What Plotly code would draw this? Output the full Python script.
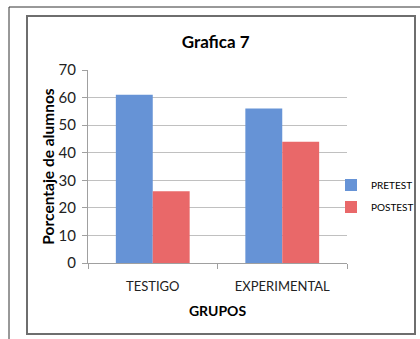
import plotly.graph_objects as go

categories = ["TESTIGO", "EXPERIMENTAL"]
pretest = [61, 56]
postest = [26, 44]
series_names = ["PRETEST", "POSTEST"]

W, H = 420, 339
L, R, T, B = 88, 73, 70, 76
pw, ph = W - L - R, H - T - B

def px(x):
    return (x - L) / pw

def py(y):
    return (H - B - y) / ph

fig = go.Figure()
fig.add_trace(go.Bar(x=categories, y=pretest, name=series_names[0], legendgroup="a",
                     marker=dict(color="#6693D6", line=dict(width=0))))
fig.add_trace(go.Bar(x=categories, y=postest, name=series_names[1], legendgroup="b",
                     marker=dict(color="#E96869", line=dict(width=0))))

font = "Lato, Open Sans, sans-serif"
fig.update_layout(
    width=W, height=H,
    margin=dict(l=L, r=R, t=T, b=B, autoexpand=False),
    paper_bgcolor="white", plot_bgcolor="white",
    barmode="group", bargap=0.43, bargroupgap=0,
    font=dict(family=font, color="#000000", size=14),
    title=dict(text="<b>Grafica 7</b>", x=px(221), xanchor="center",
               y=1 - 42 / H, yanchor="middle", font=dict(size=17)),
    showlegend=True,
    legend=dict(x=px(331), y=py(196), xanchor="left", yanchor="middle",
                font=dict(size=10), itemwidth=30, tracegroupgap=3,
                bgcolor="rgba(0,0,0,0)"),
    xaxis=dict(title=dict(text="<b>GRUPOS</b>", font=dict(size=14), standoff=13),
               automargin=False, tickangle=0, ticklabelstandoff=11,
               showline=True, linecolor="#A0A0A0", linewidth=1,
               ticks="outside", tickson="boundaries", ticklen=5, tickcolor="#A0A0A0",
               tickfont=dict(size=13, color="#222222"), showgrid=False),
    yaxis=dict(title=dict(text="<b>Porcentaje de alumnos</b>", font=dict(size=15.5), standoff=0),
               automargin=False, ticklabelstandoff=3,
               range=[0, 70], dtick=10, showline=True, linecolor="#A0A0A0", linewidth=1,
               ticks="outside", ticklen=5, tickcolor="#A0A0A0",
               gridcolor="#C0C0C0", gridwidth=1, tickfont=dict(size=15, color="#222222")),
    shapes=[
        dict(type="line", xref="paper", yref="paper", x0=px(9), x1=px(420), y0=py(7), y1=py(7),
             line=dict(color="#333333", width=1)),
        dict(type="line", xref="paper", yref="paper", x0=px(9), x1=px(9), y0=py(7), y1=py(339),
             line=dict(color="#333333", width=1)),
        dict(type="rect", xref="paper", yref="paper", x0=px(27), x1=px(415), y0=py(16), y1=py(334),
             line=dict(color="#6E6E6E", width=2)),
    ],
)

fig.write_html("out.html", config={"displayModeBar": False},
               post_script="document.body.style.margin='0';document.body.style.overflow='hidden';")
